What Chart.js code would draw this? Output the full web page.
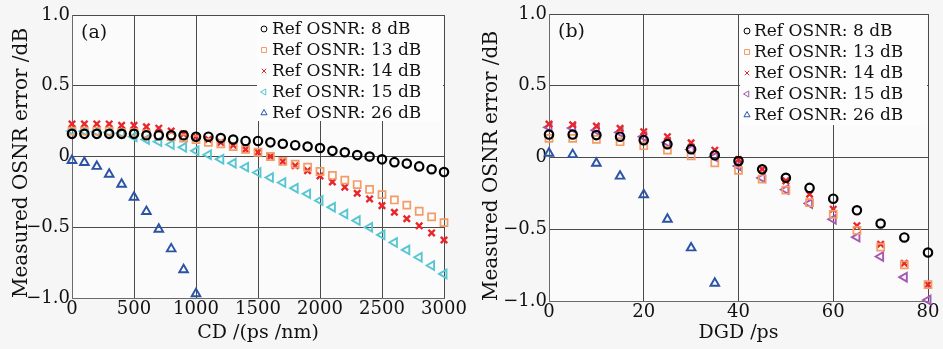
<!DOCTYPE html>
<html>
<head>
<meta charset="utf-8">
<script src="https://cdn.jsdelivr.net/npm/chart.js@4.4.0/dist/chart.umd.min.js"></script>
<style>
html, body { margin: 0; padding: 0; background: #f6f6f6; }
#wrap { position: relative; width: 943px; height: 349px; }
canvas { position: absolute; top: 0; }
#chartA { left: 0; }
#chartB { left: 471px; }
</style>
</head>
<body>
<div id="wrap">
  <canvas id="chartA" width="471" height="349"></canvas>
  <canvas id="chartB" width="472" height="349"></canvas>
</div>
<script>
// ---- data ----
var seriesNames = ['Ref OSNR: 8 dB', 'Ref OSNR: 13 dB', 'Ref OSNR: 14 dB', 'Ref OSNR: 15 dB', 'Ref OSNR: 26 dB'];

// (a) error vs CD
var cdValues = [0, 100, 200, 300, 400, 500, 600, 700, 800, 900, 1000, 1100, 1200, 1300, 1400, 1500,
                1600, 1700, 1800, 1900, 2000, 2100, 2200, 2300, 2400, 2500, 2600, 2700, 2800, 2900, 3000];
var cd26Values = [0, 100, 200, 300, 400, 500, 600, 700, 800, 900, 1000];
var osnr8a  = [0.16, 0.16, 0.16, 0.16, 0.16, 0.16, 0.15, 0.15, 0.15, 0.15, 0.14, 0.14, 0.13, 0.12, 0.11, 0.11,
               0.10, 0.09, 0.08, 0.07, 0.06, 0.04, 0.03, 0.01, 0.00, -0.02, -0.04, -0.05, -0.07, -0.09, -0.11];
var osnr13a = [0.18, 0.18, 0.18, 0.18, 0.17, 0.17, 0.16, 0.15, 0.14, 0.13, 0.12, 0.10, 0.09, 0.07, 0.05, 0.03,
               0.00, -0.035, -0.054, -0.075, -0.106, -0.134, -0.167, -0.198, -0.233, -0.269, -0.307, -0.344, -0.387, -0.427, -0.467];
var osnr14a = [0.23, 0.23, 0.23, 0.23, 0.22, 0.22, 0.21, 0.20, 0.18, 0.16, 0.14, 0.12, 0.10, 0.08, 0.05, 0.03,
               0.00, -0.035, -0.066, -0.10, -0.137, -0.18, -0.217, -0.26, -0.30, -0.347, -0.394, -0.44, -0.49, -0.54, -0.59];
var osnr15a = [0.18, 0.18, 0.175, 0.17, 0.165, 0.14, 0.12, 0.105, 0.085, 0.065, 0.04, 0.012, -0.019, -0.047, -0.075, -0.113,
               -0.149, -0.184, -0.224, -0.264, -0.311, -0.358, -0.406, -0.453, -0.50, -0.554, -0.608, -0.66, -0.712, -0.77, -0.83];
var osnr26a = [-0.028, -0.042, -0.07, -0.125, -0.196, -0.288, -0.389, -0.514, -0.653, -0.80, -0.97];

// (b) error vs DGD
var dgdValues = [0, 5, 10, 15, 20, 25, 30, 35, 40, 45, 50, 55, 60, 65, 70, 75, 80];
var dgd26Values = [0, 5, 10, 15, 20, 25, 30, 35];
var osnr8b  = [0.16, 0.16, 0.156, 0.145, 0.121, 0.093, 0.058, 0.016, -0.025, -0.082, -0.141, -0.212, -0.287, -0.368, -0.46, -0.557, -0.662];
var osnr13b = [0.133, 0.133, 0.126, 0.11, 0.082, 0.051, 0.012, -0.037, -0.09, -0.15, -0.228, -0.315, -0.396, -0.508, -0.625, -0.748, -0.886];
var osnr14b = [0.233, 0.228, 0.219, 0.203, 0.18, 0.145, 0.103, 0.051, -0.014, -0.082, -0.163, -0.256, -0.36, -0.475, -0.604, -0.737, -0.886];
var osnr15b = [0.21, 0.205, 0.19, 0.175, 0.145, 0.105, 0.056, 0.005, -0.06, -0.142, -0.224, -0.32, -0.43, -0.555, -0.69, -0.834, -0.993];
var osnr26b = [0.03, 0.02, -0.04, -0.13, -0.26, -0.43, -0.63, -0.876];

var yTicks = [-1, -0.5, 0, 0.5, 1];

var FONT = '"DejaVu Serif", "Liberation Serif", serif';

// marker look per series: 8, 13, 14, 15, 26 dB
var markers = [
  { color: '#000000', style: 'circle',   radius: 4.2, width: 2.2, rot: 0 },
  { color: '#f39c68', style: 'rect',     radius: 5,   width: 1.7, rot: 0 },
  { color: '#e8262c', style: 'crossRot', radius: 4.5, width: 2.4, rot: 0 },
  { color: '#58c6d2', style: 'triangle', radius: 5,   width: 1.9, rot: -90 },
  { color: '#2a52a6', style: 'triangle', radius: 5,   width: 1.9, rot: 0 }
];

function pts(xs, ys) {
  return ys.map(function (v, i) { return { x: xs[i], y: v }; });
}

function makeSet(i, xs, ys, colorOverride) {
  var m = markers[i];
  var c = colorOverride || m.color;
  return {
    label: seriesNames[i],
    data: pts(xs, ys),
    showLine: false,
    pointStyle: m.style,
    pointRadius: m.radius,
    pointBorderWidth: m.width,
    pointRotation: m.rot,
    pointBorderColor: c,
    pointBackgroundColor: 'rgba(0,0,0,0)',
    pointHoverRadius: m.radius,
    clip: false
  };
}

function fmtY(v) {
  if (v === 0) return '0';
  return (v < 0 ? '\u2212' : '') + Math.abs(v).toFixed(1);
}

function fmtX(v) {
  return String(v);
}

var panelPlugin = {
  id: 'panel',
  beforeDraw: function (chart, args, o) {
    var ctx = chart.ctx, a = chart.chartArea;
    ctx.save();
    ctx.fillStyle = '#f6f6f6';
    ctx.fillRect(0, 0, chart.width, chart.height);
    ctx.fillStyle = '#fbfbfb';
    ctx.fillRect(a.left, a.top, a.right - a.left, a.bottom - a.top);
    ctx.restore();
  },
  beforeDatasetsDraw: function (chart, args, o) {
    var ctx = chart.ctx, a = chart.chartArea;
    ctx.save();
    // legend box hides the grid behind it
    ctx.fillStyle = '#fdfdfd';
    ctx.fillRect(o.boxLeft, a.top + 1, a.right - o.boxLeft - 1, o.boxBottom - a.top - 1);
    ctx.font = '17px ' + FONT;
    ctx.textBaseline = 'middle';
    ctx.textAlign = 'left';
    for (var i = 0; i < seriesNames.length; i++) {
      var m = markers[i];
      var c = (o.colors && o.colors[i]) || m.color;
      var y = o.rowTop + i * o.rowStep;
      ctx.strokeStyle = c;
      ctx.fillStyle = 'rgba(0,0,0,0)';
      Chart.helpers.drawPoint(ctx, {
        pointStyle: m.style, radius: m.radius * 0.7, rotation: m.rot, borderWidth: m.width * 0.9
      }, o.markX, y);
      ctx.fillStyle = '#111';
      ctx.fillText(seriesNames[i], o.textX, y + 1);
    }
    ctx.font = '19px ' + FONT;
    ctx.fillText(o.tag, a.left + 9, a.top + 18);
    ctx.restore();
  }
};

function makeOptions(p) {
  return {
    responsive: false,
    animation: false,
    layout: { padding: { left: 0, right: p.padRight, top: p.padTop, bottom: 0 } },
    plugins: {
      legend: { display: false },
      tooltip: { enabled: false },
      panel: p.legend
    },
    scales: {
      x: {
        type: 'linear', min: p.xMin, max: p.xMax,
        ticks: { stepSize: p.xStep, color: '#111', font: { family: FONT, size: 18 }, padding: 1, maxRotation: 0, autoSkip: false, callback: fmtX },
        grid: { color: '#4a4a4a', lineWidth: 1, drawTicks: false },
        border: { color: '#6a6a6a', width: 1 },
        title: { display: true, text: p.xTitle, color: '#111', font: { family: FONT, size: 19 }, padding: { top: 0, bottom: 5 } },
        afterFit: function (s) { s.height = p.xH; }
      },
      y: {
        type: 'linear', min: -1, max: 1,
        afterBuildTicks: function (s) { s.ticks = yTicks.map(function (v) { return { value: v }; }); },
        ticks: { color: '#111', font: { family: FONT, size: 18 }, padding: 2, callback: fmtY },
        grid: { color: '#4a4a4a', lineWidth: 1, drawTicks: false },
        border: { color: '#6a6a6a', width: 1 },
        title: { display: true, align: 'start', text: 'Measured OSNR error /dB', color: '#111', font: { family: FONT, size: 20 }, padding: { top: p.yTitlePad, bottom: 0 } },
        afterFit: function (s) { s.width = p.yW; }
      }
    }
  };
}

new Chart(document.getElementById('chartA'), {
  type: 'scatter',
  data: {
    datasets: [
      makeSet(0, cdValues, osnr8a),
      makeSet(1, cdValues, osnr13a),
      makeSet(2, cdValues, osnr14a),
      makeSet(3, cdValues, osnr15a),
      makeSet(4, cd26Values, osnr26a)
    ]
  },
  options: makeOptions({
    padRight: 27, padTop: 15, xH: 51, yW: 72, yTitlePad: 10,
    xMin: 0, xMax: 3000, xStep: 500, xTitle: 'CD /(ps /nm)',
    legend: { boxLeft: 257, boxBottom: 121, markX: 264, textX: 272, rowTop: 29, rowStep: 21, tag: '(a)' }
  }),
  plugins: [panelPlugin]
});

var purple = '#a457b3';
new Chart(document.getElementById('chartB'), {
  type: 'scatter',
  data: {
    datasets: [
      makeSet(0, dgdValues, osnr8b),
      makeSet(1, dgdValues, osnr13b),
      makeSet(2, dgdValues, osnr14b),
      makeSet(3, dgdValues, osnr15b, purple),
      makeSet(4, dgd26Values, osnr26b)
    ]
  },
  options: makeOptions({
    padRight: 15, padTop: 14, xH: 48, yW: 78, yTitlePad: 9,
    xMin: 0, xMax: 80, xStep: 20, xTitle: 'DGD /ps',
    legend: { boxLeft: 269, boxBottom: 125, markX: 276, textX: 283, rowTop: 31, rowStep: 21, tag: '(b)',
              colors: [null, null, null, purple, null] }
  }),
  plugins: [panelPlugin]
});
</script>
</body>
</html>
